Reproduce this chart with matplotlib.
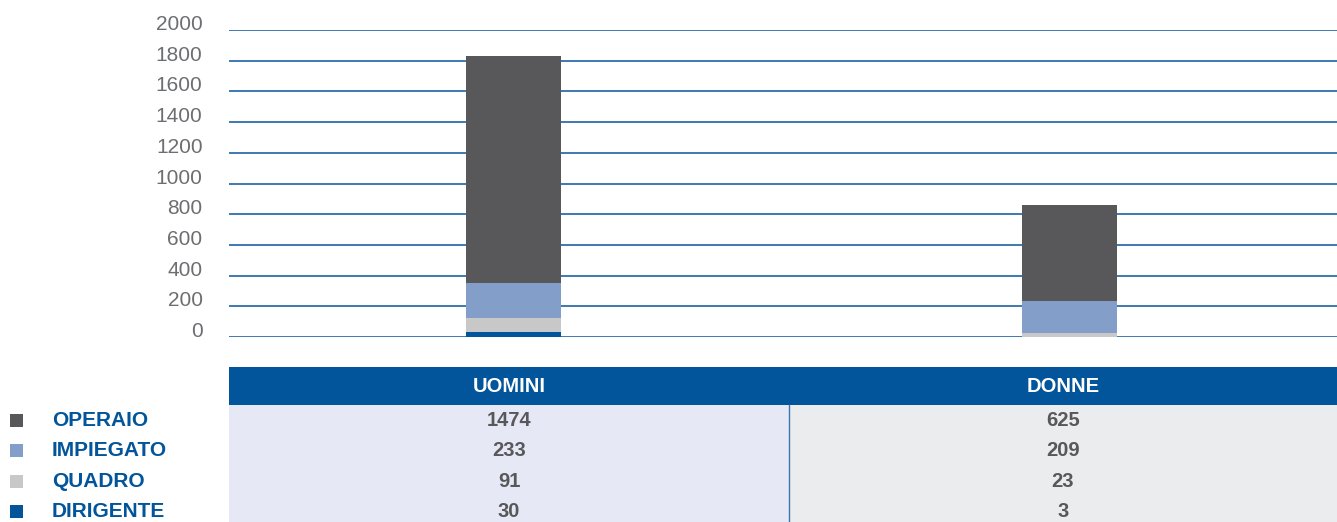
import numpy as np
import matplotlib.pyplot as plt
from matplotlib.patches import Rectangle

plt.rcParams['font.family'] = ['Liberation Sans', 'DejaVu Sans']

# data
groups = ['UOMINI', 'DONNE']
roles = ['OPERAIO', 'IMPIEGATO', 'QUADRO', 'DIRIGENTE']
operaio = [1474, 625]
impiegato = [233, 209]
quadro = [91, 23]
dirigente = [30, 3]
yticks = list(range(0, 2001, 200))

colors = {'OPERAIO': '#58585a', 'IMPIEGATO': '#839ec8',
          'QUADRO': '#c8c8c9', 'DIRIGENTE': '#02559a'}
BLUE = '#02559a'

W, H = 1337, 522
fig = plt.figure(figsize=(W / 100, H / 100), dpi=100)

# main bar chart
ax = fig.add_axes([229 / W, 1 - 337 / H, 1 - 229 / W, (337 - 30) / H])
x = np.arange(len(groups))
series = [('DIRIGENTE', dirigente), ('QUADRO', quadro),
          ('IMPIEGATO', impiegato), ('OPERAIO', operaio)]
bottom = np.zeros(len(groups))
for name, vals in series:
    ax.bar(x, vals, width=0.171, bottom=bottom, color=colors[name], zorder=3)
    bottom += np.array(vals)

ax.set_xlim(-0.511, 1.482)
ax.set_ylim(0, 2000)
ax.set_yticks(yticks)
ax.set_yticklabels([str(v) for v in yticks])
ax.set_xticks([])
for s in ax.spines.values():
    s.set_visible(False)
ax.tick_params(axis='y', length=0, pad=19, labelsize=15, labelcolor='#6d6e71')
for lbl in ax.get_yticklabels():
    lbl.set_verticalalignment('baseline')
ax.grid(axis='y', color='#2f6dab', linewidth=1.3, zorder=1)
ax.set_axisbelow(True)

# table + legend below
tax = fig.add_axes([0, 0, 1, 155 / H])
tax.set_xlim(0, W)
tax.set_ylim(155, 0)
tax.axis('off')

header_h = 38
row_h = 30.5
col_edges = [229, 789, 1337]
col_bg = ['#e6e9f5', '#ebeced']

tax.add_patch(Rectangle((229, 0), W - 229, header_h, color=BLUE, lw=0))
for j, g in enumerate(groups):
    x0, x1 = col_edges[j], col_edges[j + 1]
    tax.add_patch(Rectangle((x0, header_h), x1 - x0, 155 - header_h,
                            color=col_bg[j], lw=0))
    tax.text((x0 + x1) / 2, header_h / 2 + 1, g, color='white', fontsize=14.5,
             fontweight='bold', ha='center', va='center')
tax.plot([789, 789], [header_h, 155], color='#3a76b0', lw=1)

values = [operaio, impiegato, quadro, dirigente]
for i, role in enumerate(roles):
    yc = header_h + row_h * (i + 0.5)
    tax.add_patch(Rectangle((10, yc - 6.5), 13, 13, color=colors[role], lw=0))
    tax.text(52, yc, role, color=BLUE, fontsize=15, fontweight='bold',
             ha='left', va='center')
    for j in range(len(groups)):
        xc = (col_edges[j] + col_edges[j + 1]) / 2
        tax.text(xc, yc, str(values[i][j]), color='#58585a', fontsize=14.5,
                 fontweight='bold', ha='center', va='center')

fig.savefig('out.png', dpi=100)
